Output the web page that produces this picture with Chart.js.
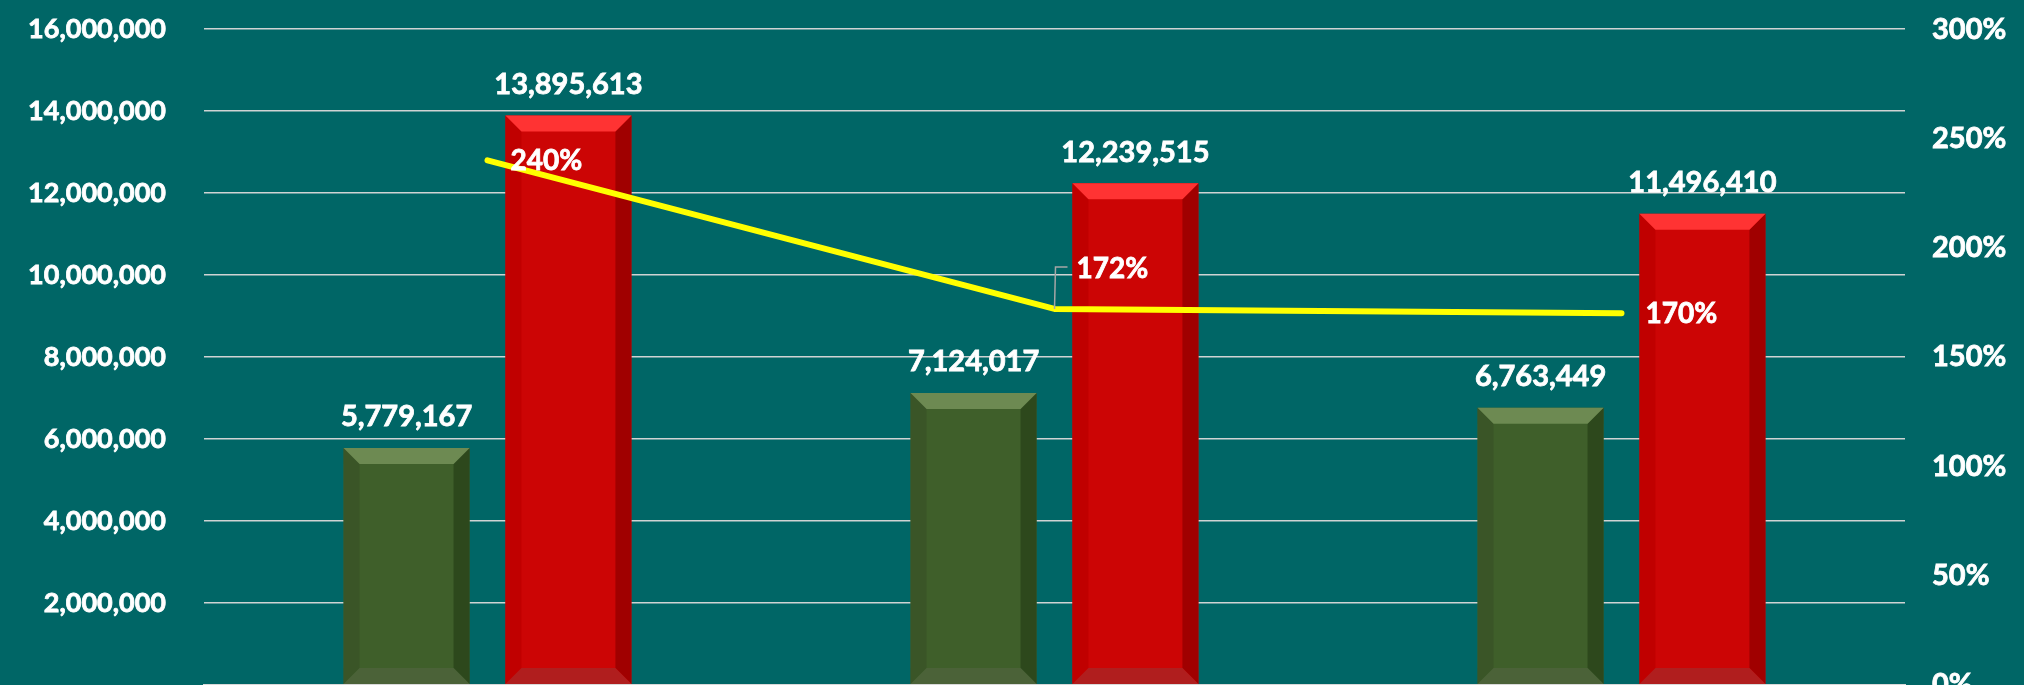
<!DOCTYPE html>
<html>
<head>
<meta charset="utf-8">
<script src="https://cdn.jsdelivr.net/npm/chart.js@4/dist/chart.umd.min.js"></script>
<style>
  html, body { margin:0; padding:0; background:#006666; overflow:hidden; }
  #frame { width:2024px; height:685px; overflow:hidden; position:relative; }
  #box { width:2024px; height:764px; position:absolute; left:0; top:-25px; }
</style>
</head>
<body>
<div id="frame"><div id="box"><canvas id="chart"></canvas></div></div>
<script>
// categories are below the cropped edge of the picture, so they stay hidden
const categories = ["1", "2", "3"];
const greenValues = [5779167, 7124017, 6763449];
const redValues = [13895613, 12239515, 11496410];
const ratioValues = [2.40, 1.72, 1.70];

const leftTicks = [0, 2000000, 4000000, 6000000, 8000000, 10000000, 12000000, 14000000, 16000000];
const rightTicks = [0, 0.5, 1, 1.5, 2, 2.5, 3];

const FONT = "Lato, 'Open Sans', sans-serif";

// 3D bevel look for the bars (by dataset index)
const bevels = [
    {top:"#6d8a52", left:"#3a5527", right:"#2d481c", bottom:"#4b6238"},
    {top:"#ff3333", left:"#c00000", right:"#a00000", bottom:"#b01e1e"}
];
// where each percentage label sits relative to its point
const pctLabelPos = [
    {dx:23, dy:1, leader:false},
    {dx:22, dy:-40, leader:true},
    {dx:24, dy:1, leader:false}
];

const fmt = n => n.toLocaleString("en-US");

const bevelPlugin = {
    id:"bevel",
    afterDatasetDraw(chart, args){
        const b = bevels[args.index];
        if(!b) return;
        const ctx = chart.ctx;
        const s = 16;
        args.meta.data.forEach(bar=>{
            const p = bar.getProps(["x","y","base","width"], true);
            const l = p.x - p.width/2, r = p.x + p.width/2, t = p.y, btm = p.base;
            const poly = (pts, c)=>{
                ctx.beginPath();
                ctx.moveTo(pts[0][0], pts[0][1]);
                pts.slice(1).forEach(q=>ctx.lineTo(q[0], q[1]));
                ctx.closePath();
                ctx.fillStyle = c;
                ctx.fill();
            };
            ctx.save();
            poly([[l,t],[l+s,t+s],[l+s,btm-s],[l,btm]], b.left);
            poly([[r,t],[r,btm],[r-s,btm-s],[r-s,t+s]], b.right);
            poly([[l,btm],[l+s,btm-s],[r-s,btm-s],[r,btm]], b.bottom);
            poly([[l,t],[r,t],[r-s,t+s],[l+s,t+s]], b.top);
            ctx.restore();
        });
    }
};

function boldText(ctx, txt, x, y){
    ctx.strokeText(txt, x, y);
    ctx.fillText(txt, x, y);
}

const labelPlugin = {
    id:"labels",
    afterDraw(chart){
        const ctx = chart.ctx;
        ctx.save();
        ctx.font = "bold 29px " + FONT;
        ctx.fillStyle = "#ffffff";
        ctx.strokeStyle = "#ffffff";
        ctx.lineWidth = 0.8;
        [0,1].forEach(di=>{
            const meta = chart.getDatasetMeta(di);
            meta.data.forEach((bar,i)=>{
                ctx.textAlign = "center";
                ctx.textBaseline = "middle";
                boldText(ctx, fmt(chart.data.datasets[di].data[i]), bar.x, bar.y - 31);
            });
        });
        ctx.font = "bold 28px " + FONT;
        const lineMeta = chart.getDatasetMeta(2);
        lineMeta.data.forEach((pt,i)=>{
            const pos = pctLabelPos[i];
            if(pos.leader){
                ctx.save();
                ctx.beginPath();
                ctx.moveTo(pt.x, pt.y);
                ctx.lineTo(pt.x + 1, pt.y + pos.dy - 2);
                ctx.lineTo(pt.x + 13, pt.y + pos.dy - 2);
                ctx.strokeStyle = "#a6a6a6";
                ctx.lineWidth = 1.5;
                ctx.stroke();
                ctx.restore();
            }
            ctx.textAlign = "left";
            ctx.textBaseline = "middle";
            boldText(ctx, Math.round(ratioValues[i]*100) + "%", pt.x + pos.dx, pt.y + pos.dy);
        });
        ctx.restore();
    }
};

new Chart(document.getElementById("chart"), {
    type:"bar",
    data:{
        labels:categories,
        datasets:[
            {label:"green", data:greenValues, backgroundColor:"#3f5f2a", yAxisID:"y", order:1},
            {label:"red", data:redValues, backgroundColor:"#cc0505", yAxisID:"y", order:2},
            {type:"line", label:"ratio", data:ratioValues, yAxisID:"y2", order:0,
             borderColor:"#ffff00", borderWidth:6, borderCapStyle:"round", borderJoinStyle:"round",
             pointRadius:0, tension:0, fill:false}
        ]
    },
    options:{
        responsive:true,
        maintainAspectRatio:false,
        animation:false,
        events:[],
        layout:{padding:{top:12, bottom:0, left:0, right:0}},
        datasets:{bar:{categoryPercentage:0.571, barPercentage:0.778}},
        plugins:{legend:{display:false}, tooltip:{enabled:false}},
        scales:{
            x:{
                ticks:{display:false},
                grid:{display:false, drawTicks:false},
                border:{display:true, color:"#d9d9d9", width:2}
            },
            y:{
                position:"left",
                min:0, max:16000000,
                afterBuildTicks:s=>{ s.ticks = leftTicks.map(v=>({value:v})); },
                afterFit:s=>{ s.width = 204; },
                ticks:{
                    color:"#ffffff", padding:38,
                    textStrokeColor:"#ffffff", textStrokeWidth:0.8,
                    font:{family:FONT, size:27, weight:"bold"},
                    callback:v=> v === 0 ? "" : fmt(v)
                },
                grid:{color:"#cfd3d3", lineWidth:1.5, drawTicks:false},
                border:{display:false}
            },
            y2:{
                position:"right",
                min:0, max:3,
                afterBuildTicks:s=>{ s.ticks = rightTicks.map(v=>({value:v})); },
                afterFit:s=>{ s.width = 119; },
                ticks:{
                    color:"#ffffff", padding:27,
                    textStrokeColor:"#ffffff", textStrokeWidth:0.8,
                    font:{family:FONT, size:29, weight:"bold"},
                    callback:v=> Math.round(v*100) + "%"
                },
                grid:{display:false, drawTicks:false},
                border:{display:false}
            }
        }
    },
    plugins:[bevelPlugin, labelPlugin]
});
</script>
</body>
</html>
